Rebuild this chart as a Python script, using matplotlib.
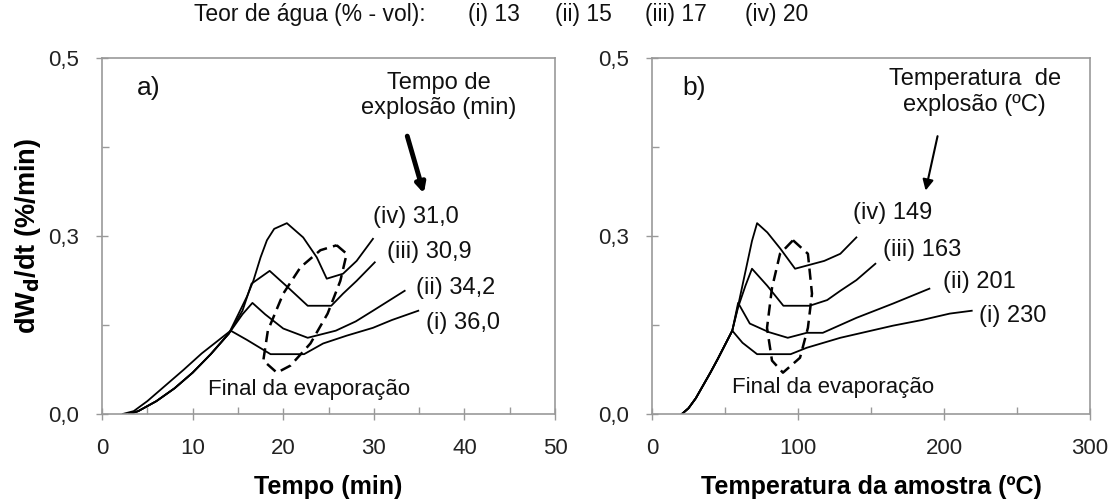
import matplotlib
matplotlib.use('Agg')
import matplotlib.pyplot as plt

plt.rcParams['font.family'] = ['Liberation Sans', 'DejaVu Sans']

# ---- panel a: dWd/dt vs time (min)
a_i_x = [2.3, 3.5, 5, 7, 9, 11, 12.5, 14.2, 16, 18.6, 22.3, 24.4, 27, 29.9, 32, 34.9]
a_i_y = [0, 0.004, 0.018, 0.040, 0.062, 0.085, 0.100, 0.117, 0.104, 0.084, 0.084, 0.099, 0.110, 0.121, 0.132, 0.145]
a_ii_x = [3, 4, 6, 8, 10, 12, 14, 15.5, 16.6, 18, 20, 22.7, 25.8, 28, 29.9, 33.4]
a_ii_y = [0, 0.004, 0.018, 0.036, 0.058, 0.084, 0.113, 0.140, 0.156, 0.140, 0.120, 0.107, 0.117, 0.130, 0.145, 0.173]
a_iii_x = [3, 4, 6, 8, 10, 12, 14, 15.5, 16.5, 18.5, 20.5, 22.7, 25.3, 26.6, 28.1, 30.1]
a_iii_y = [0, 0.004, 0.018, 0.036, 0.058, 0.084, 0.113, 0.145, 0.183, 0.201, 0.178, 0.152, 0.152, 0.169, 0.187, 0.213]
a_iv_x = [3, 4, 6, 8, 10, 12, 14, 16, 16.7, 17.5, 18.2, 19, 20.4, 22.2, 23.7, 24.8, 26.6, 28.1, 29.9]
a_iv_y = [0, 0.004, 0.018, 0.036, 0.058, 0.084, 0.113, 0.165, 0.187, 0.220, 0.244, 0.260, 0.268, 0.248, 0.220, 0.190, 0.197, 0.215, 0.246]
a_evap_x = [25.9, 27.0, 26.3, 24.9, 23.0, 20.8, 19.3, 17.8, 18.3, 20.0, 21.9, 24.1, 25.9]
a_evap_y = [0.237, 0.225, 0.187, 0.141, 0.099, 0.068, 0.058, 0.075, 0.117, 0.169, 0.206, 0.230, 0.237]

# ---- panel b: dWd/dt vs sample temperature (ºC)
rise_x = [20.5, 25, 30, 35, 40, 45, 50, 55]
rise_y = [0, 0.008, 0.022, 0.040, 0.058, 0.077, 0.097, 0.117]
b_i_x = rise_x + [62, 72, 95, 106, 129, 165, 185, 204, 219]
b_i_y = rise_y + [0.100, 0.084, 0.084, 0.093, 0.107, 0.124, 0.132, 0.141, 0.145]
b_ii_x = rise_x + [59, 67, 80, 93, 106, 117, 140, 165, 190]
b_ii_y = rise_y + [0.156, 0.127, 0.115, 0.107, 0.114, 0.114, 0.135, 0.155, 0.176]
b_iii_x = rise_x + [59, 64, 68.5, 79, 90, 108, 120, 129, 140, 153]
b_iii_y = rise_y + [0.150, 0.180, 0.204, 0.180, 0.152, 0.152, 0.160, 0.173, 0.188, 0.211]
b_iv_x = rise_x + [59, 64, 68.5, 72, 79, 88, 98, 118, 129, 140]
b_iv_y = rise_y + [0.152, 0.200, 0.243, 0.268, 0.255, 0.232, 0.204, 0.215, 0.225, 0.248]
b_evap_x = [96.6, 106.8, 109.6, 106.8, 101.4, 89.7, 82.2, 78.8, 82.2, 87.7, 96.6]
b_evap_y = [0.244, 0.225, 0.169, 0.121, 0.079, 0.058, 0.075, 0.121, 0.177, 0.225, 0.244]

y_major = [0, 0.25, 0.5]
y_major_labels = ['0,0', '0,3', '0,5']
y_minor = [0.125, 0.375]

a_labels = ['(i) 36,0', '(ii) 34,2', '(iii) 30,9', '(iv) 31,0']
a_label_pos = [(35.8, 0.128), (34.7, 0.177), (31.4, 0.227), (29.9, 0.276)]
b_labels = ['(i) 230', '(ii) 201', '(iii) 163', '(iv) 149']
b_label_pos = [(224, 0.138), (199, 0.185), (158, 0.231), (138, 0.282)]

header = ['(i) 13', '(ii) 15', '(iii) 17', '(iv) 20']
header_x = [0.419, 0.497, 0.578, 0.668]

fig = plt.figure(figsize=(11.16, 5.03), dpi=100)
ax_a = fig.add_axes([0.0914, 0.177, 0.406, 0.7077])
ax_b = fig.add_axes([0.5842, 0.177, 0.3925, 0.7077])

line_kw = dict(color='black', lw=1.3)
dash_kw = dict(color='black', lw=1.8, linestyle=(0, (4.5, 2.5)))

for xs, ys in [(a_i_x, a_i_y), (a_ii_x, a_ii_y), (a_iii_x, a_iii_y), (a_iv_x, a_iv_y)]:
    ax_a.plot(xs, ys, **line_kw)
ax_a.plot(a_evap_x, a_evap_y, **dash_kw)

for xs, ys in [(b_i_x, b_i_y), (b_ii_x, b_ii_y), (b_iii_x, b_iii_y), (b_iv_x, b_iv_y)]:
    ax_b.plot(xs, ys, **line_kw)
ax_b.plot(b_evap_x, b_evap_y, **dash_kw)

for ax in (ax_a, ax_b):
    ax.set_ylim(0, 0.5)
    ax.set_yticks(y_major)
    ax.set_yticklabels(y_major_labels)
    ax.set_yticks(y_minor, minor=True)
    for s in ax.spines.values():
        s.set_color('#999999')
        s.set_linewidth(1.2)
    ax.tick_params(which='major', direction='inout', length=9, width=1, color='#999999',
                   labelsize=16, labelcolor='#222222')
    ax.tick_params(which='minor', direction='in', length=5, width=1, color='#999999')
    ax.tick_params(axis='x', which='major', pad=13)
    ax.tick_params(axis='y', which='major', pad=12)

ax_a.set_xlim(0, 50)
ax_a.set_xticks(range(0, 51, 10))
ax_a.set_xticks(range(5, 50, 10), minor=True)
ax_b.set_xlim(0, 300)
ax_b.set_xticks(range(0, 301, 100))
ax_b.set_xticks(range(50, 300, 100), minor=True)

ax_a.set_xlabel('Tempo (min)', fontsize=18, fontweight='bold', labelpad=11)
ax_b.set_xlabel('Temperatura da amostra (ºC)', fontsize=18, fontweight='bold', labelpad=11)
ax_a.set_ylabel(r'dW$_\mathbf{d}$/dt (%/min)', fontsize=19.5, fontweight='bold', labelpad=4)

txt_kw = dict(fontsize=17, color='#111111')
ax_a.text(3.9, 0.458, 'a)', va='center', fontsize=19, color='#111111')
ax_b.text(20.7, 0.458, 'b)', va='center', fontsize=19, color='#111111')
ax_a.text(37.2, 0.447, 'Tempo de\nexplosão (min)', ha='center', va='center', linespacing=1.2, **txt_kw)
ax_b.text(221, 0.452, 'Temperatura  de\nexplosão (ºC)', ha='center', va='center', linespacing=1.2, **txt_kw)
for lab, (x, y) in zip(a_labels, a_label_pos):
    ax_a.text(x, y, lab, va='center', **txt_kw)
for lab, (x, y) in zip(b_labels, b_label_pos):
    ax_b.text(x, y, lab, va='center', **txt_kw)
ax_a.text(22.9, 0.035, 'Final da evaporação', ha='center', va='center', fontsize=16, color='#111111')
ax_b.text(124, 0.037, 'Final da evaporação', ha='center', va='center', fontsize=16, color='#111111')

ax_a.annotate('', xy=(35.6, 0.306), xytext=(33.6, 0.394),
              arrowprops=dict(arrowstyle='-|>', lw=3.5, color='black', mutation_scale=14))
ax_b.annotate('', xy=(187, 0.310), xytext=(196, 0.394),
              arrowprops=dict(arrowstyle='-|>', lw=1.5, color='black', mutation_scale=16))

fig.text(0.278, 0.972, 'Teor de água (% - vol):', ha='center', va='center', fontsize=16.5, color='#111111')
for lab, x in zip(header, header_x):
    fig.text(x, 0.972, lab, ha='left', va='center', fontsize=16.5, color='#111111')

fig.savefig('out.png', dpi=100)
